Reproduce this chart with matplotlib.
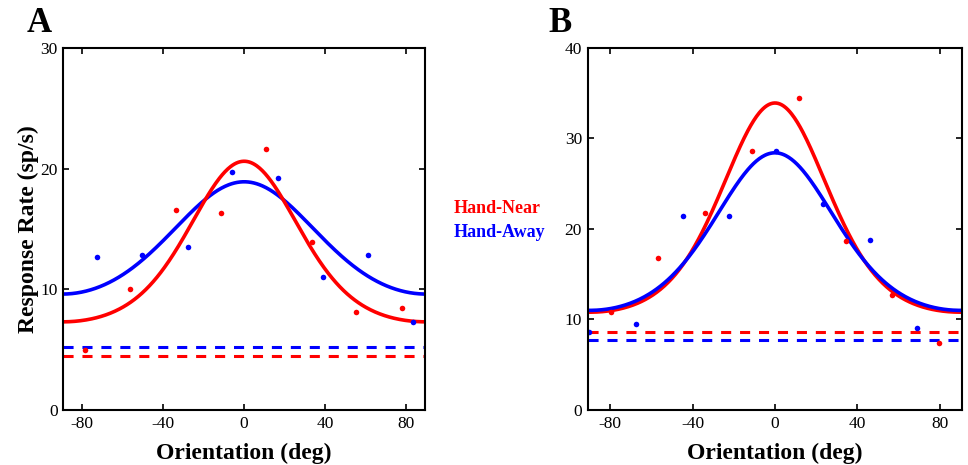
import numpy as np
import matplotlib
matplotlib.use('Agg')
import matplotlib.pyplot as plt

plt.rcParams['font.family'] = ['Liberation Serif', 'DejaVu Serif']
plt.rcParams['axes.unicode_minus'] = False

# panel A data points (deg, sp/s)
a_near_x = [-78.7, -56.3, -33.7, -11.5, 10.7, 33.5, 55.5, 77.9]
a_near_y = [4.97, 9.99, 16.6, 16.3, 21.6, 13.9, 8.14, 8.47]
a_away_x = [-72.8, -50.4, -28.0, -5.8, 16.5, 39.0, 61.2, 83.6]
a_away_y = [12.67, 12.8, 13.5, 19.7, 19.2, 11.0, 12.8, 7.3]

# panel B data points
b_near_x = [-79.6, -56.6, -33.8, -11.2, 11.7, 34.3, 56.8, 79.8]
b_near_y = [10.86, 16.8, 21.8, 28.6, 34.4, 18.66, 12.7, 7.43]
b_away_x = [-90.3, -67.5, -44.8, -22.2, 0.6, 23.5, 46.1, 68.8]
b_away_y = [8.65, 9.46, 21.45, 21.45, 28.6, 22.8, 18.8, 9.1]

# fitted tuning curves: (min, max, kappa)
a_near_fit = (7.3, 20.6, 1.1)
a_away_fit = (9.6, 18.9, 0.45)
b_near_fit = (10.8, 33.9, 1.25)
b_away_fit = (11.0, 28.4, 0.9)

# spontaneous (baseline) rates
a_base = {'near': 4.45, 'away': 5.24}
b_base = {'near': 8.58, 'away': 7.69}


def tuning(theta, fit):
    lo, hi, k = fit
    g = np.exp(k * (np.cos(np.deg2rad(2 * theta)) - 1))
    g0 = np.exp(-2 * k)
    return lo + (hi - lo) * (g - g0) / (1 - g0)


def style_axes(ax, xlim, ylim, yticks):
    ax.set_xlim(*xlim)
    ax.set_ylim(*ylim)
    ax.set_xticks([-80, -40, 0, 40, 80])
    ax.set_yticks(yticks)
    ax.tick_params(direction='in', top=True, right=True, length=4,
                   width=1.2, labelsize=12.5, pad=4)
    for s in ax.spines.values():
        s.set_linewidth(1.5)
    ax.set_xlabel('Orientation (deg)', fontsize=17, fontweight='bold', labelpad=8)


fig = plt.figure(figsize=(9.68, 4.65), dpi=100)
axA = fig.add_axes([0.0654, 0.1183, 0.3737, 0.779])
axB = fig.add_axes([0.6071, 0.1183, 0.387, 0.779])

th = np.linspace(-92, 92, 400)
dash = (0, (3.3, 2.9))

# Panel A
axA.plot(th, tuning(th, a_away_fit), color='#0000ff', lw=2.6)
axA.plot(th, tuning(th, a_near_fit), color='#ff0000', lw=2.6)
axA.axhline(a_base['away'], color='#0000ff', lw=2.2, ls=dash)
axA.axhline(a_base['near'], color='#ff0000', lw=2.2, ls=dash)
axA.plot(a_near_x, a_near_y, 'o', color='#ff0000', ms=4, mec='none')
axA.plot(a_away_x, a_away_y, 'o', color='#0000ff', ms=4, mec='none')
style_axes(axA, (-89.4, 89.4), (0, 30), [0, 10, 20, 30])
axA.set_ylabel('Response Rate (sp/s)', fontsize=17, fontweight='bold', labelpad=1)

# Panel B
axB.plot(th, tuning(th, b_near_fit), color='#ff0000', lw=2.6)
axB.plot(th, tuning(th, b_away_fit), color='#0000ff', lw=2.6)
axB.axhline(b_base['near'], color='#ff0000', lw=2.2, ls=dash)
axB.axhline(b_base['away'], color='#0000ff', lw=2.2, ls=dash)
axB.plot(b_near_x, b_near_y, 'o', color='#ff0000', ms=4, mec='none')
axB.plot(b_away_x, b_away_y, 'o', color='#0000ff', ms=4, mec='none')
style_axes(axB, (-90.9, 90.9), (0, 40), [0, 10, 20, 30, 40])

# panel letters
fig.text(0.028, 0.931, 'A', fontsize=25, fontweight='bold', va='baseline')
fig.text(0.567, 0.931, 'B', fontsize=25, fontweight='bold', va='baseline')

# legend text between panels
fig.text(0.469, 0.552, 'Hand-Near', color='#ff0000', fontsize=13, fontweight='bold', va='center')
fig.text(0.469, 0.500, 'Hand-Away', color='#0000ff', fontsize=13, fontweight='bold', va='center')

fig.savefig('out.png', dpi=100)
